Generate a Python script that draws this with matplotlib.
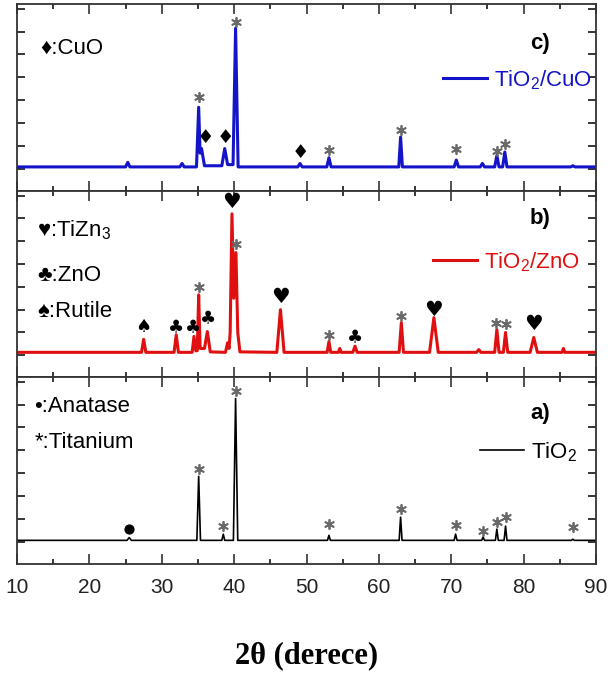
import matplotlib
matplotlib.use('Agg')
import matplotlib.pyplot as plt
from matplotlib.ticker import MultipleLocator

plt.rcParams['font.family'] = ['Liberation Sans', 'DejaVu Sans']
plt.rcParams['mathtext.fontset'] = 'custom'
plt.rcParams['mathtext.rm'] = 'Liberation Sans'
plt.rcParams['mathtext.default'] = 'regular'

# c) TiO2/CuO pattern (2theta, intensity in tick units)
cuo_x = [10, 25.0, 25.3, 25.6, 32.5, 32.8, 33.1,
         34.8, 35.1, 35.3, 35.5, 35.9,
         38.3, 38.7, 39.1, 39.85, 40.2, 40.55,
         48.8, 49.1, 49.4, 52.8, 53.1, 53.4,
         62.75, 63.0, 63.25, 70.4, 70.7, 71.0,
         74.0, 74.3, 74.6, 76.0, 76.3, 76.6, 77.1, 77.4, 77.7,
         86.5, 86.8, 87.1, 90]
cuo_y = [0.1, 0.1, 0.3, 0.1, 0.1, 0.25, 0.1,
         0.1, 2.7, 0.7, 0.9, 0.15,
         0.15, 0.9, 0.2, 0.2, 6.15, 0.1,
         0.1, 0.25, 0.1, 0.1, 0.5, 0.1,
         0.1, 1.4, 0.1, 0.1, 0.4, 0.1,
         0.1, 0.25, 0.1, 0.1, 0.6, 0.1, 0.1, 0.75, 0.1,
         0.1, 0.15, 0.1, 0.1]

# b) TiO2/ZnO pattern
zno_x = [10, 27.2, 27.5, 27.8, 31.7, 32.0, 32.3, 34.2, 34.45, 34.7,
         34.9, 35.1, 35.3, 35.9, 36.3, 36.7, 38.8, 39.1, 39.3,
         39.45, 39.7, 39.95, 40.25, 40.5, 40.8, 45.9, 46.4, 46.9,
         52.85, 53.1, 53.35, 54.4, 54.6, 54.8, 56.4, 56.7, 57.0,
         62.8, 63.1, 63.4, 67.0, 67.6, 68.2, 73.5, 73.8, 74.1,
         76.0, 76.3, 76.6, 77.2, 77.5, 77.8, 80.9, 81.4, 81.9,
         85.3, 85.5, 85.7, 90]
zno_y = [0.13, 0.13, 0.7, 0.13, 0.13, 0.9, 0.13, 0.13, 0.83, 0.2,
         0.2, 2.65, 0.3, 0.3, 1.04, 0.15, 0.13, 0.55, 0.3,
         1.0, 6.2, 2.5, 4.5, 1.0, 0.15, 0.13, 2.0, 0.13,
         0.13, 0.6, 0.13, 0.13, 0.3, 0.13, 0.13, 0.4, 0.13,
         0.13, 1.43, 0.13, 0.13, 1.65, 0.13, 0.13, 0.25, 0.13,
         0.13, 1.13, 0.13, 0.13, 1.0, 0.13, 0.13, 0.78, 0.13,
         0.13, 0.3, 0.13, 0.13]

# a) TiO2 pattern
tio2_x = [10, 25.2, 25.5, 25.8, 34.85, 35.1, 35.35, 38.3, 38.5, 38.7, 39.9, 40.2, 40.5,
          52.9, 53.1, 53.3, 62.8, 63.0, 63.2, 70.4, 70.6, 70.8, 74.2, 74.4, 74.6,
          76.1, 76.3, 76.5, 77.3, 77.5, 77.7, 86.6, 86.8, 87.0, 90]
tio2_y = [0.08, 0.08, 0.2, 0.08, 0.08, 2.87, 0.08, 0.08, 0.35, 0.08, 0.08, 6.26, 0.08,
          0.08, 0.3, 0.08, 0.08, 1.09, 0.08, 0.08, 0.35, 0.08, 0.08, 0.22, 0.08,
          0.08, 0.57, 0.08, 0.08, 0.7, 0.08, 0.08, 0.13, 0.08, 0.08]

# phase markers
star_c_x = [35.1, 40.2, 53.1, 63.0, 70.7, 76.3, 77.4]
star_c_y = [3.13, 6.4, 0.83, 1.7, 0.87, 0.78, 1.09]
diamond_c_x = [36.0, 38.8, 49.1]
diamond_c_y = [1.4, 1.4, 0.74]

star_b_x = [35.1, 40.3, 53.1, 63.1, 76.2, 77.5]
star_b_y = [3.0, 4.87, 0.9, 1.74, 1.43, 1.39]
heart_b_x = [39.7, 46.4, 67.6, 81.4]
heart_b_y = [6.7, 2.57, 2.0, 1.35]
club_b_x = [32.0, 34.3, 36.4, 56.7]
club_b_y = [1.2, 1.2, 1.56, 0.74]
spade_b_x = [27.5]
spade_b_y = [1.26]

star_a_x = [35.1, 38.5, 40.2, 53.1, 63.0, 70.6, 74.4, 76.3, 77.5, 86.8]
star_a_y = [3.2, 0.7, 6.57, 0.78, 1.43, 0.74, 0.48, 0.87, 1.09, 0.65]
dot_a_x = [25.5]
dot_a_y = [0.57]

xticks = [10, 20, 30, 40, 50, 60, 70, 80, 90]

SYM = ['DejaVu Sans']
FAM = ['Liberation Sans', 'DejaVu Sans']
STAR_COLOR = '#6a6a6a'
TXT = 16


def style_axis(ax, show_labels):
    ax.set_xlim(10, 90)
    ax.set_ylim(-0.95, 7.2)
    ax.set_xticks(xticks)
    ax.xaxis.set_minor_locator(MultipleLocator(5))
    ax.yaxis.set_major_locator(MultipleLocator(1))
    ax.tick_params(axis='x', which='major', direction='in', length=7, width=1.1,
                   top=True, bottom=True, labelbottom=show_labels,
                   labelsize=15, pad=10, colors='#222222')
    ax.tick_params(axis='x', which='minor', direction='in', length=3.5, width=1.1,
                   top=True, bottom=True)
    ax.tick_params(axis='y', direction='in', length=5.5, width=1.1,
                   left=True, right=True, labelleft=False)
    for sp in ax.spines.values():
        sp.set_linewidth(1.3)
        sp.set_color('#333333')


def put_symbols(ax, xs, ys, sym, size=13):
    for x, y in zip(xs, ys):
        ax.text(x, y, sym, family=SYM, fontsize=size, ha='center', va='center', color='black')


def put_stars(ax, xs, ys):
    ax.scatter(xs, ys, marker=(6, 2, 0), s=45, color=STAR_COLOR, linewidths=1.3, zorder=4)


def add_legend(ax, anchor):
    ax.legend(loc='center right', bbox_to_anchor=anchor, frameon=False,
              handlelength=2.0, handletextpad=0.3, borderpad=0, borderaxespad=0,
              prop={'family': FAM, 'size': TXT}, labelcolor='linecolor')


fig = plt.figure(figsize=(6.14, 6.79), dpi=100)
left, width = 0.0277, 0.943
ax_c = fig.add_axes([left, 0.7187, width, 0.2754])
ax_b = fig.add_axes([left, 0.4448, width, 0.2739], sharex=ax_c)
ax_a = fig.add_axes([left, 0.1694, width, 0.2754], sharex=ax_c)

# c) panel
ax_c.plot(cuo_x, cuo_y, color='#1414c8', lw=2.2, label='TiO$_2$/CuO')
put_stars(ax_c, star_c_x, star_c_y)
put_symbols(ax_c, diamond_c_x, diamond_c_y, '\u2666', 14)
ax_c.text(0.04, 0.765, '\u2666:CuO', transform=ax_c.transAxes, family=FAM,
          fontsize=TXT, va='center', ha='left')
ax_c.text(0.903, 0.79, 'c)', transform=ax_c.transAxes, family=FAM,
          fontsize=TXT, fontweight='bold', va='center', ha='center')
add_legend(ax_c, (0.993, 0.594))
style_axis(ax_c, False)

# b) panel
ax_b.plot(zno_x, zno_y, color='#e01010', lw=2.2, label='TiO$_2$/ZnO')
put_stars(ax_b, star_b_x, star_b_y)
put_symbols(ax_b, heart_b_x, heart_b_y, '\u2665', 15)
put_symbols(ax_b, club_b_x, club_b_y, '\u2663')
put_symbols(ax_b, spade_b_x, spade_b_y, '\u2660')
ax_b.text(0.035, 0.79, '\u2665:TiZn$_3$', transform=ax_b.transAxes, family=FAM,
          fontsize=TXT, va='center', ha='left')
ax_b.text(0.035, 0.548, '\u2663:ZnO', transform=ax_b.transAxes, family=FAM,
          fontsize=TXT, va='center', ha='left')
ax_b.text(0.035, 0.35, '\u2660:Rutile', transform=ax_b.transAxes, family=FAM,
          fontsize=TXT, va='center', ha='left')
ax_b.text(0.903, 0.85, 'b)', transform=ax_b.transAxes, family=FAM,
          fontsize=TXT, fontweight='bold', va='center', ha='center')
add_legend(ax_b, (0.972, 0.618))
style_axis(ax_b, False)

# a) panel
ax_a.plot(tio2_x, tio2_y, color='black', lw=1.2, label='TiO$_2$')
put_stars(ax_a, star_a_x, star_a_y)
ax_a.scatter(dot_a_x, dot_a_y, marker='o', s=40, color='black', zorder=4)
ax_a.text(0.03, 0.84, '\u2022:Anatase', transform=ax_a.transAxes, family=FAM,
          fontsize=TXT, va='center', ha='left')
ax_a.text(0.03, 0.652, '*:Titanium', transform=ax_a.transAxes, family=FAM,
          fontsize=TXT, va='center', ha='left')
ax_a.text(0.903, 0.807, 'a)', transform=ax_a.transAxes, family=FAM,
          fontsize=TXT, fontweight='bold', va='center', ha='center')
add_legend(ax_a, (0.967, 0.599))
style_axis(ax_a, True)

fig.text(0.5, 0.035, '2\u03b8 (derece)', family=['Liberation Serif', 'DejaVu Serif'],
         fontsize=22, fontweight='bold', ha='center', va='center')

fig.savefig('out.png', dpi=100)
